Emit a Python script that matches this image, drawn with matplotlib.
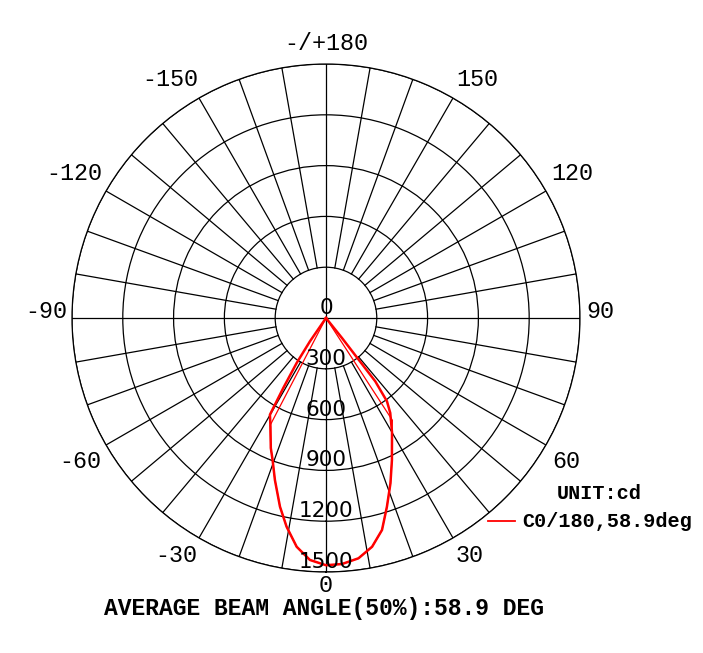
import numpy as np
import matplotlib
matplotlib.use('Agg')
import matplotlib.pyplot as plt
from matplotlib.lines import Line2D

# candela curve C0/180 (thick), angle in deg from nadir
c0_angles = [-40, -34.5, -33.1, -31.4, -30.1, -27, -23, -20.6, -17.5, -13.7, -10.7, -7.3, -3.8, 0,
             3.7, 7.7, 11.4, 14.8, 17.9, 21.3, 24.9, 26.9, 30, 34.1, 36.2, 37.9, 38.1, 38.7, 45]
c0_values = [0, 167, 317, 484, 660, 722, 834, 896, 1003, 1147, 1254, 1362, 1432, 1460,
             1456, 1432, 1378, 1295, 1171, 1048, 925, 861, 780, 677, 610, 474, 313, 151, 0]

# thin curve
thin_angles = [-40, -27.5, -23, -20.6, -17.5, -13.7, -10.7, -7.3, -3.8, 0,
               3.7, 7.7, 11.4, 14.8, 17.9, 21.3, 24.9, 26.9, 30, 33, 45]
thin_values = [0, 715, 834, 896, 1003, 1147, 1254, 1362, 1432, 1460,
               1456, 1432, 1378, 1295, 1171, 1048, 925, 861, 780, 720, 0]

rings = [300, 600, 900, 1200, 1500]
ring_labels = ['0', '300', '600', '900', '1200', '1500']
angle_labels = ['0', '30', '60', '90', '120', '150', '-/+180', '-150', '-120', '-90', '-60', '-30']

# label centres in pixels (x from left, y from top)
label_px = [(326, 586), (470, 556), (566, 461), (600, 311), (572, 174), (477, 79),
            (326, 44), (170, 79), (74, 174), (46, 311), (80, 461), (176, 556)]

W, H = 703, 653
fig = plt.figure(figsize=(W / 100, H / 100), dpi=100)
ax = fig.add_axes([0.1024, 0.124, 0.7226, 0.778], projection='polar')
ax.set_theta_zero_location('S')
ax.set_theta_direction(1)
ax.set_ylim(0, 1500)
ax.set_xticks([])
ax.set_yticks(rings)
ax.set_yticklabels([])
ax.yaxis.grid(True, color='black', lw=0.9, ls='-')
ax.xaxis.grid(False)
ax.spines['polar'].set_color('black')
ax.spines['polar'].set_linewidth(0.9)

# spokes every 10 deg, full lines on the axes
for a in range(0, 360, 10):
    t = np.radians(a)
    r0 = 0 if a % 90 == 0 else 300
    ax.plot([t, t], [r0, 1500], color='black', lw=0.9, zorder=2)

ax.plot(np.radians(thin_angles), thin_values, color='red', lw=0.9, zorder=3)
ax.plot(np.radians(c0_angles), c0_values, color='red', lw=1.8, zorder=4)

# ring labels
for r, lab in zip([0] + rings, ring_labels):
    ax.text(0, r, lab, ha='center', va='bottom', fontsize=15.5,
            family='DejaVu Sans', zorder=5)

# angle labels
for (px, py), lab in zip(label_px, angle_labels):
    fig.text(px / W, 1 - py / H, lab, ha='center', va='center', fontsize=16.8,
             family='Liberation Mono')

fig.add_artist(Line2D([0.694, 0.7326], [0.2021, 0.2021], color='red', lw=1.3,
                      transform=fig.transFigure))
fig.text(0.7425, 0.2021, 'C0/180,58.9deg', ha='left', va='center', fontsize=14.5,
         family='Liberation Mono', weight='bold')
fig.text(0.7923, 0.245, 'UNIT:cd', ha='left', va='center', fontsize=14.5,
         family='Liberation Mono', weight='bold')
fig.text(0.4615, 1 - 609 / H, 'AVERAGE BEAM ANGLE(50%):58.9 DEG', ha='center', va='center',
         fontsize=16.6, family='Liberation Mono', weight='bold')

fig.savefig('out.png', dpi=100)
